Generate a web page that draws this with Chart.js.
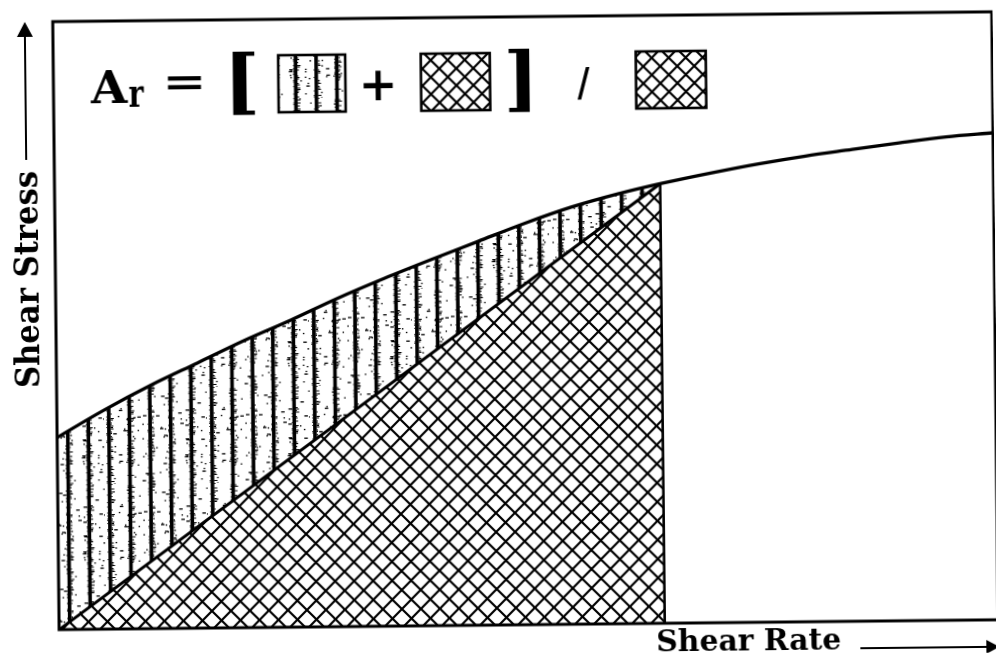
<!DOCTYPE html>
<html>
<head>
<meta charset="utf-8">
<script src="https://cdn.jsdelivr.net/npm/chart.js@4.4.1/dist/chart.umd.min.js"></script>
<style>
  html, body { margin: 0; padding: 0; background: #fff; overflow: hidden; }
  #wrap { width: 996px; height: 658px; transform: rotate(-0.6deg); transform-origin: 498px 329px; }
  canvas { display: block; }
</style>
</head>
<body>
<div id="wrap"><canvas id="chart" width="996" height="658"></canvas></div>
<script>
// Flow curve: shear stress against shear rate
const shearRate   = [0, 5, 10, 15, 20, 25, 30, 35, 40, 45, 50, 55, 60, 64.5, 70, 75, 80, 85, 90, 95, 100];
const shearStress = [31.6, 36.0, 40.0, 43.6, 47.2, 50.5, 54.0, 57.2, 60.2, 63.1, 66.0, 68.6, 70.7, 72.3, 74.0, 75.4, 76.6, 77.6, 78.6, 79.5, 80.1];
// upper end of the integrated range (index into shearRate)
const limitIndex = 13;
const xLabel = 'Shear Rate';
const yLabel = 'Shear Stress';

const curvePts  = shearRate.map((x, i) => ({ x: x, y: shearStress[i] }));
const regionPts = curvePts.slice(0, limitIndex + 1);
const xLimit = shearRate[limitIndex];
const yLimit = shearStress[limitIndex];
const diagonalPts = [{ x: 0, y: 0 }, { x: xLimit, y: yLimit }];
const edgePts     = [{ x: xLimit, y: 0 }, { x: xLimit, y: yLimit }];

// ---- fill textures ----
function makeStripeTile() {
  const W = 103, H = 96, c = document.createElement('canvas');
  c.width = W; c.height = H;
  const g = c.getContext('2d');
  let s = 20231;
  const rnd = () => { s = (s * 16807) % 2147483647; return s / 2147483647; };
  g.fillStyle = '#000';
  for (let k = 0; k < 5; k++) {
    const cx = 4.9 + 20.6 * k;
    g.fillRect(cx - 1.8, 0, 3.6, H);
    for (let y = 0; y < H; y += 1.5) {
      if (rnd() < 0.5) g.fillRect(cx + 1.6, y, 1 + rnd() * 2.5, 1);
      if (rnd() < 0.3) g.fillRect(cx - 2.6, y, 1, 1);
    }
    for (let d = 0; d < 18; d++) {
      const x = cx + 3 + rnd() * 15, y = rnd() * H;
      g.fillRect(x, y, rnd() < 0.6 ? 1.5 : 3.5, 1.3);
    }
  }
  return g.createPattern(c, 'repeat');
}
function makeHatchTile(t) {
  const c = document.createElement('canvas');
  c.width = t; c.height = t;
  const g = c.getContext('2d');
  g.fillStyle = '#fff';
  g.fillRect(0, 0, t, t);
  g.strokeStyle = '#000';
  g.lineWidth = 2.2;
  g.beginPath();
  for (const k of [-1, 0, 1]) {
    g.moveTo(k * t - 1, -1); g.lineTo(k * t + t + 1, t + 1);
    g.moveTo(k * t + t + 1, -1); g.lineTo(k * t - 1, t + 1);
  }
  g.stroke();
  return g.createPattern(c, 'repeat');
}
const ctx0 = document.getElementById('chart').getContext('2d');
const stripePattern = makeStripeTile();
const hatchPattern = makeHatchTile(19);
const hatchKeyPattern = makeHatchTile(17);

// draws text so that its ink fills the given box
function drawFitted(ctx, text, font, box, rotated) {
  ctx.save();
  ctx.font = font;
  ctx.textAlign = 'left';
  ctx.textBaseline = 'alphabetic';
  const m = ctx.measureText(text);
  const w = m.actualBoundingBoxLeft + m.actualBoundingBoxRight;
  const h = m.actualBoundingBoxAscent + m.actualBoundingBoxDescent;
  if (rotated) {
    ctx.translate(box.x0, box.y1);
    ctx.rotate(-Math.PI / 2);
    ctx.scale((box.y1 - box.y0) / w, (box.x1 - box.x0) / h);
  } else {
    ctx.translate(box.x0, box.y0);
    ctx.scale((box.x1 - box.x0) / w, (box.y1 - box.y0) / h);
  }
  ctx.fillStyle = '#000';
  ctx.fillText(text, m.actualBoundingBoxLeft, m.actualBoundingBoxAscent);
  ctx.restore();
}

function patternBox(ctx, pattern, x0, y0, x1, y1, shift) {
  ctx.save();
  ctx.translate(shift, 0);
  ctx.fillStyle = '#fff';
  ctx.fillRect(x0 - shift, y0, x1 - x0, y1 - y0);
  ctx.fillStyle = pattern;
  ctx.fillRect(x0 - shift, y0, x1 - x0, y1 - y0);
  ctx.restore();
  ctx.lineWidth = 2.6;
  ctx.strokeStyle = '#000';
  ctx.strokeRect(x0, y0, x1 - x0, y1 - y0);
}

const SERIF = '"DejaVu Serif", "Liberation Serif", serif';

const decorations = {
  id: 'decorations',
  afterDatasetsDraw(chart) {
    const ctx = chart.ctx;
    const a = chart.chartArea;
    // plot frame
    ctx.save();
    ctx.strokeStyle = '#000';
    ctx.lineWidth = 3;
    ctx.strokeRect(a.left, a.top, a.right - a.left, a.bottom - a.top);

    // axis titles with arrows
    drawFitted(ctx, xLabel, 'bold 30px ' + SERIF, { x0: 654, x1: 837, y0: 630, y1: 653 });
    drawFitted(ctx, yLabel, 'bold 30px ' + SERIF, { x0: 13, x1: 38.5, y0: 167, y1: 382 }, true);
    ctx.lineWidth = 2;
    ctx.beginPath();
    ctx.moveTo(857, 652); ctx.lineTo(986, 652);
    ctx.moveTo(28, 28); ctx.lineTo(28, 155);
    ctx.stroke();
    ctx.fillStyle = '#000';
    ctx.beginPath();
    ctx.moveTo(996, 652); ctx.lineTo(983, 645); ctx.lineTo(983, 659); ctx.closePath();
    ctx.fill();
    ctx.beginPath();
    ctx.moveTo(28, 17); ctx.lineTo(20, 32); ctx.lineTo(36, 32); ctx.closePath();
    ctx.fill();

    // area ratio definition
    const big = 'bold 48px ' + SERIF;
    drawFitted(ctx, 'A', big, { x0: 92.5, x1: 130.5, y0: 65.7, y1: 98.7 });
    drawFitted(ctx, 'r', 'bold 34px ' + SERIF, { x0: 131, x1: 147, y0: 82, y1: 103 });
    drawFitted(ctx, '=', big, { x0: 170.6, x1: 204.6, y0: 72.7, y1: 86.7 });
    drawFitted(ctx, '[', 'bold 64px ' + SERIF, { x0: 235.6, x1: 257.6, y0: 49.5, y1: 113 });
    patternBox(ctx, stripePattern, 281, 53, 348, 110, 5);
    drawFitted(ctx, '+', big, { x0: 366, x1: 396, y0: 68.8, y1: 98.8 });
    patternBox(ctx, hatchKeyPattern, 423.6, 53, 492.6, 110, 0);
    drawFitted(ctx, ']', 'bold 64px ' + SERIF, { x0: 511, x1: 533, y0: 49.5, y1: 113 });
    drawFitted(ctx, '/', 'bold 36px ' + SERIF, { x0: 580, x1: 593, y0: 69, y1: 101 });
    patternBox(ctx, hatchKeyPattern, 638.6, 53, 708.6, 110, 0);
    ctx.restore();
  }
};

new Chart(ctx0, {
  type: 'line',
  data: {
    datasets: [
      { data: regionPts, borderWidth: 0, borderColor: 'rgba(0,0,0,0)', backgroundColor: stripePattern,
        fill: 'origin', cubicInterpolationMode: 'monotone', order: 4 },
      { data: diagonalPts, borderWidth: 3, borderColor: '#000', backgroundColor: hatchPattern,
        fill: 'origin', order: 3 },
      { data: edgePts, borderWidth: 2.6, borderColor: '#000', fill: false, order: 2 },
      { data: curvePts, borderWidth: 3.3, borderColor: '#000', fill: false,
        cubicInterpolationMode: 'monotone', order: 1 }
    ]
  },
  options: {
    responsive: false,
    animation: false,
    devicePixelRatio: 1,
    layout: { padding: { left: 56, right: 1, top: 17, bottom: 33 } },
    elements: { point: { radius: 0, hoverRadius: 0 } },
    plugins: { legend: { display: false }, tooltip: { enabled: false } },
    events: [],
    scales: {
      x: { type: 'linear', min: 0, max: 100, display: false },
      y: { type: 'linear', min: 0, max: 100, display: false }
    }
  },
  plugins: [decorations]
});
</script>
</body>
</html>
